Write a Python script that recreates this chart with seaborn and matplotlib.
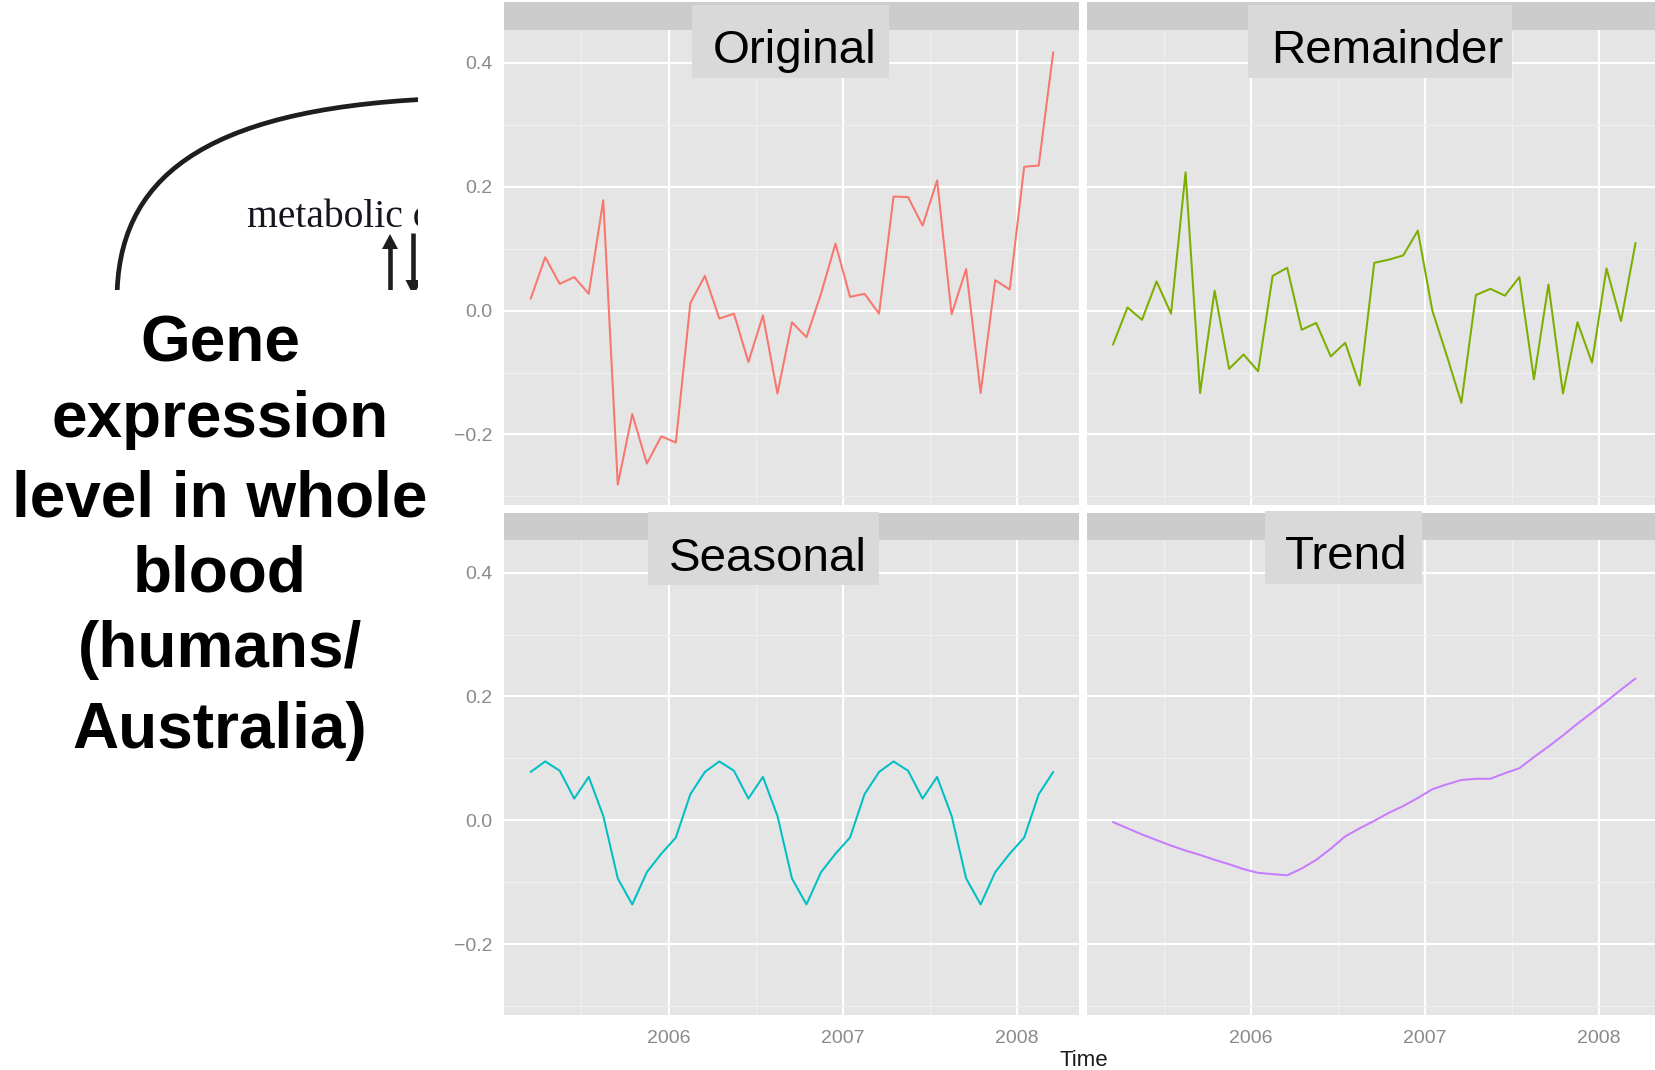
import numpy as np
import pandas as pd
import matplotlib
matplotlib.use("Agg")
import matplotlib.pyplot as plt
from matplotlib.patches import Rectangle, PathPatch, Polygon
from matplotlib.path import Path
from matplotlib.ticker import FuncFormatter
import seaborn as sns

sns.set_style("white")
plt.rcParams["font.family"] = ["Liberation Sans", "DejaVu Sans"]

# ---- data: monthly STL decomposition, mid-month from March 2005 to March 2008
n_months = 37
time = [2005 + (2.5 + k) / 12 for k in range(n_months)]

original = [0.019, 0.086, 0.043, 0.054, 0.027, 0.178, -0.281, -0.167, -0.247,
            -0.203, -0.213, 0.012, 0.056, -0.013, -0.005, -0.083, -0.008, -0.134,
            -0.019, -0.043, 0.027, 0.108, 0.022, 0.027, -0.005, 0.184, 0.183,
            0.137, 0.210, -0.006, 0.067, -0.133, 0.049, 0.034, 0.232, 0.234, 0.417]

seasonal = [0.078, 0.095, 0.080, 0.035, 0.070, 0.007, -0.094, -0.136, -0.084,
            -0.054, -0.028, 0.042,
            0.078, 0.095, 0.080, 0.035, 0.070, 0.007, -0.094, -0.136, -0.084,
            -0.054, -0.028, 0.042,
            0.078, 0.095, 0.080, 0.035, 0.070, 0.007, -0.094, -0.136, -0.084,
            -0.054, -0.028, 0.042, 0.078]

trend = [-0.003, -0.013, -0.023, -0.032, -0.041, -0.049, -0.056, -0.064, -0.071,
         -0.079, -0.085, -0.087, -0.089, -0.078, -0.064, -0.046, -0.026, -0.013,
         -0.001, 0.012, 0.023, 0.036, 0.050, 0.058, 0.065, 0.067, 0.067,
         0.076, 0.084, 0.102, 0.119, 0.137, 0.156, 0.174, 0.192, 0.211, 0.229]

remainder = [-0.055, 0.005, -0.015, 0.047, -0.005, 0.223, -0.133, 0.032, -0.094,
             -0.071, -0.098, 0.056, 0.069, -0.031, -0.020, -0.074, -0.052, -0.121,
             0.077, 0.082, 0.089, 0.129, 0.000, -0.073, -0.149, 0.025, 0.035,
             0.024, 0.054, -0.111, 0.042, -0.134, -0.019, -0.084, 0.068, -0.017, 0.109]

components = ["Original", "Remainder", "Seasonal", "Trend"]
colors = ["#F8766D", "#7CAE00", "#00BFC4", "#C77CFF"]
series = {"Original": original, "Remainder": remainder,
          "Seasonal": seasonal, "Trend": trend}

df = pd.concat(
    [pd.DataFrame({"Time": time, "value": series[c], "component": c}) for c in components],
    ignore_index=True,
)

# ---- figure and pixel helpers
W, H = 1656, 1070
fig = plt.figure(figsize=(W / 100, H / 100), dpi=100)
fig.patch.set_facecolor("white")


def frect(x0, y0, x1, y1):
    return [x0 / W, 1 - y1 / H, (x1 - x0) / W, (y1 - y0) / H]


def fig_box(x0, y0, x1, y1, color, z):
    fig.add_artist(Rectangle((x0 / W, 1 - y1 / H), (x1 - x0) / W, (y1 - y0) / H,
                             transform=fig.transFigure, facecolor=color,
                             edgecolor="none", zorder=z))


cols = [(504.5, 1079.3), (1086.8, 1661.6)]
rows = [(2.0, 30.0, 505.0), (512.7, 540.0, 1014.5)]  # strip top, panel top, panel bottom

# facet label boxes: (box x0, x1, y0, y1, text left, text baseline)
label_boxes = {
    "Original": (691.8, 889.0, 5.0, 77.7, 712.6, 63.3),
    "Remainder": (1247.9, 1512.0, 5.0, 77.7, 1271.0, 62.7),
    "Seasonal": (648.2, 879.2, 512.0, 584.7, 669.4, 570.9),
    "Trend": (1265.0, 1422.0, 511.0, 583.6, 1285.2, 569.0),
}

xlim = (2005.058, 2008.358)
ylim = (-0.3138, 0.4527)
minus_fmt = FuncFormatter(lambda v, p: f"{v:.1f}".replace("-", "\u2212"))

for idx, comp in enumerate(components):
    r, c = divmod(idx, 2)
    x0, x1 = cols[c]
    st, pt, pb = rows[r]
    ax = fig.add_axes(frect(x0, pt, x1, pb))
    sub = df[df["component"] == comp]
    sns.lineplot(data=sub, x="Time", y="value", ax=ax, color=colors[idx],
                 linewidth=1.45, legend=False)
    ax.set_xlabel("")
    ax.set_ylabel("")
    ax.set_facecolor("#E5E5E5")
    for s in ax.spines.values():
        s.set_visible(False)
    ax.set_xlim(*xlim)
    ax.set_ylim(*ylim)
    ax.set_xticks([2006, 2007, 2008])
    ax.set_xticks([2005.5, 2006.5, 2007.5], minor=True)
    ax.set_xticklabels(["2006", "2007", "2008"])
    ax.set_yticks([-0.2, 0.0, 0.2, 0.4])
    ax.set_yticks([-0.3, -0.1, 0.1, 0.3], minor=True)
    ax.yaxis.set_major_formatter(minus_fmt)
    ax.set_axisbelow(True)
    ax.grid(which="major", color="white", linewidth=1.5)
    ax.grid(which="minor", color="#EFEFEF", linewidth=0.9)
    ax.tick_params(which="minor", length=0)
    ax.tick_params(which="major", length=5.5, width=1.0, color="#7F7F7F",
                   labelsize=14, labelcolor="#8A8A8A", pad=3)
    ax.tick_params(axis="x", which="major", pad=6)
    if r == 0:
        ax.tick_params(axis="x", length=0, labelbottom=False)
    if c == 1:
        ax.tick_params(axis="y", length=0, labelleft=False)

    # strip band and its label box
    fig_box(x0, st, x1, pt, "#CCCCCC", 1)
    bx0, bx1, by0, by1, tx, ty = label_boxes[comp]
    fig_box(bx0, by0, bx1, by1, "#D9D9D9", 2)
    fig.text(tx / W, 1 - ty / H, comp, ha="left", va="baseline",
             fontsize=34.2, color="black", zorder=3)

fig.text(1084 / W, 1 - 1060 / H, "Time", ha="center", va="center",
         fontsize=16, color="#1A1A1A")

# ---- left-hand caption
caption = ["Gene", "expression", "level in whole", "blood", "(humans/", "Australia)"]
baselines = [361.7, 436.7, 516.7, 591.7, 666.7, 748.0]
for line, yb in zip(caption, baselines):
    fig.text(220 / W, 1 - yb / H, line, ha="center", va="baseline",
             fontsize=46, fontweight="bold", color="black")

# ---- pathway sketch in the upper-left corner (cropped at its edges)
ax_ill = fig.add_axes(frect(0, 0, 418, 290))
ax_ill.set_xlim(0, 418)
ax_ill.set_ylim(290, 0)
ax_ill.axis("off")

arc = Path([(117, 300), (117, 180), (200, 110), (430, 99)],
           [Path.MOVETO, Path.CURVE4, Path.CURVE4, Path.CURVE4])
ax_ill.add_patch(PathPatch(arc, fill=False, edgecolor="#1E1E1E",
                           linewidth=3.4, capstyle="butt"))

ax_ill.text(246.7, 226.7, "metabolic c", ha="left", va="baseline",
            fontsize=28.5, family=["Liberation Serif", "DejaVu Serif"],
            color="#15151F", clip_on=True)

# up arrow
ax_ill.plot([390, 390], [300, 246], color="#1E1E1E", linewidth=3.3,
            solid_capstyle="butt")
ax_ill.add_patch(Polygon([(390, 234), (382, 249), (398, 249)], closed=True,
                         facecolor="#1E1E1E", edgecolor="none"))
# down arrow
ax_ill.plot([413.5, 413.5], [233, 282], color="#1E1E1E", linewidth=3.3,
            solid_capstyle="butt")
ax_ill.add_patch(Polygon([(413.5, 296), (405.5, 280), (421.5, 280)], closed=True,
                         facecolor="#1E1E1E", edgecolor="none"))

fig.savefig("out.png", dpi=100)
